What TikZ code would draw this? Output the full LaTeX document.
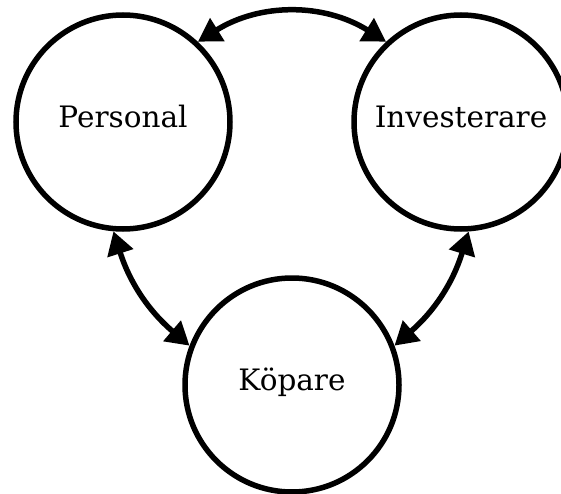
\documentclass[tikz,border=0pt]{standalone}
\usepackage{fontspec}
\setmainfont{DejaVu Serif}
\usetikzlibrary{arrows.meta}
\begin{document}
\begin{tikzpicture}[x=1pt,y=-1pt,
  party/.style={circle,draw,line width=5.5pt,minimum size=214pt,inner sep=0pt,
    text height=21pt,text depth=10pt,font=\fontsize{29.5}{34}\selectfont},
  link/.style={line width=5.5pt,{Triangle[length=23pt,width=26pt]}-{Triangle[length=23pt,width=26pt]}}]
\useasboundingbox (0,0) rectangle (561,494);
\node[party] (P) at (123,122) {Personal};
\node[party] (I) at (461,122) {Investerare};
\node[party] (K) at (292,385) {Köpare};
\draw[link] (P.47) to[bend left=32] (I.133);
\draw[link] (I.-86) to[bend left=16] (K.21);
\draw[link] (K.159) to[bend left=16] (P.-95);
\end{tikzpicture}
\end{document}
